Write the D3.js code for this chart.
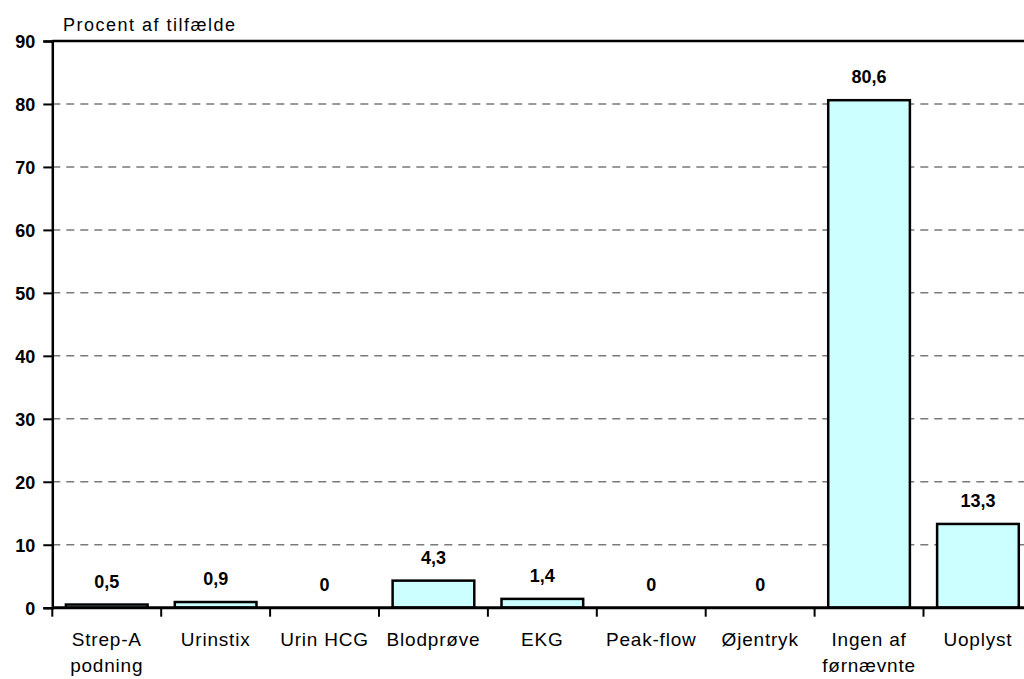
<!DOCTYPE html>
<html>
<head>
<meta charset="utf-8">
<script src="https://cdn.jsdelivr.net/npm/d3@7"></script>
<style>
  html, body { margin: 0; padding: 0; background: #fff; }
  svg { display: block; font-family: "Liberation Sans", Arial, sans-serif; }
</style>
</head>
<body>
<svg id="chart" width="1024" height="679"></svg>
<script>
// Undersøgelser foretaget (procent af tilfælde)
const categories = [
  ["Strep-A", "podning"],
  ["Urinstix"],
  ["Urin HCG"],
  ["Blodprøve"],
  ["EKG"],
  ["Peak-flow"],
  ["Øjentryk"],
  ["Ingen af", "førnævnte"],
  ["Uoplyst"]
];
const values = [0.5, 0.9, 0, 4.3, 1.4, 0, 0, 80.6, 13.3];
const valueLabels = ["0,5", "0,9", "0", "4,3", "1,4", "0", "0", "80,6", "13,3"];
const yTicks = [0, 10, 20, 30, 40, 50, 60, 70, 80, 90];
const yTitle = "Procent af tilfælde";

const svg = d3.select("#chart");
const keys = categories.map(c => c.join(" "));

const plot = { left: 52.3, right: 1032.4, top: 41, bottom: 607.7 };

const x = d3.scaleBand()
  .domain(keys)
  .range([plot.left, plot.right])
  .paddingInner(0.25)
  .paddingOuter(0.125);

const y = d3.scaleLinear()
  .domain([0, 90])
  .range([plot.bottom, plot.top]);

// dashed gridlines
svg.append("g")
  .selectAll("line")
  .data(yTicks.filter(t => t > 0 && t < 90))
  .join("line")
  .attr("x1", plot.left)
  .attr("x2", plot.right)
  .attr("y1", d => y(d))
  .attr("y2", d => y(d))
  .attr("stroke", "#7a7a7a")
  .attr("stroke-width", 1.5)
  .attr("stroke-dasharray", "8,6");

// top border of the plot area
svg.append("line")
  .attr("x1", plot.left).attr("x2", plot.right)
  .attr("y1", y(90)).attr("y2", y(90))
  .attr("stroke", "#000").attr("stroke-width", 2.5);

// bars
svg.append("g")
  .selectAll("rect")
  .data(values)
  .join("rect")
  .attr("x", (d, i) => x(keys[i]))
  .attr("width", x.bandwidth())
  .attr("y", d => y(d))
  .attr("height", d => y(0) - y(d))
  .attr("fill", "#ccffff")
  .attr("stroke", "#000")
  .attr("stroke-width", 2.5)
  .attr("display", d => d > 0 ? null : "none");

// value labels
svg.append("g")
  .selectAll("text")
  .data(values)
  .join("text")
  .attr("x", (d, i) => x(keys[i]) + x.bandwidth() / 2)
  .attr("y", d => y(d) - 17)
  .attr("text-anchor", "middle")
  .attr("font-size", 18)
  .attr("font-weight", "bold")
  .attr("fill", "#000")
  .text((d, i) => valueLabels[i]);

// y axis
const yAxis = d3.axisLeft(y)
  .tickValues(yTicks)
  .tickSize(9)
  .tickPadding(8)
  .tickFormat(d3.format("d"));

const gy = svg.append("g")
  .attr("transform", `translate(${plot.left},0)`)
  .call(yAxis);
gy.select(".domain").attr("stroke", "#000").attr("stroke-width", 2.5);
gy.selectAll(".tick line").attr("stroke", "#000").attr("stroke-width", 2);
gy.selectAll(".tick text")
  .attr("font-family", "Liberation Sans, Arial, sans-serif")
  .attr("font-size", 18)
  .attr("font-weight", "bold")
  .attr("fill", "#000")
  .attr("dy", "0.36em");

// x axis: ticks at the band boundaries
const step = x.step();
const boundaries = d3.range(keys.length + 1).map(i => plot.left + i * step);
svg.append("g")
  .selectAll("line")
  .data(boundaries)
  .join("line")
  .attr("x1", d => d).attr("x2", d => d)
  .attr("y1", y(0)).attr("y2", y(0) + 9)
  .attr("stroke", "#000").attr("stroke-width", 2);

svg.append("line")
  .attr("x1", plot.left).attr("x2", plot.right)
  .attr("y1", y(0)).attr("y2", y(0))
  .attr("stroke", "#000").attr("stroke-width", 3);

// category labels
const cat = svg.append("g")
  .selectAll("text")
  .data(categories)
  .join("text")
  .attr("x", (d, i) => x(keys[i]) + x.bandwidth() / 2)
  .attr("y", 646)
  .attr("text-anchor", "middle")
  .attr("font-size", 19)
  .attr("letter-spacing", 0.8)
  .attr("fill", "#000");
cat.selectAll("tspan")
  .data(d => d)
  .join("tspan")
  .attr("x", function () { return d3.select(this.parentNode).attr("x"); })
  .attr("dy", (d, i) => i === 0 ? 0 : 26)
  .text(d => d);

// axis title
svg.append("text")
  .attr("x", 63)
  .attr("y", 31)
  .attr("font-size", 18)
  .attr("letter-spacing", 1.5)
  .attr("fill", "#000")
  .text(yTitle);
</script>
</body>
</html>
